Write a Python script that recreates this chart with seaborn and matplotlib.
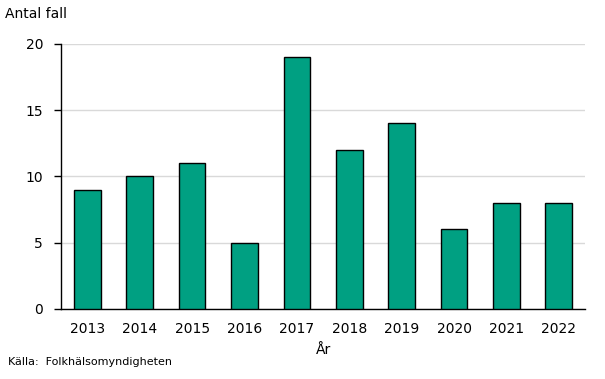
import matplotlib
matplotlib.use("Agg")
import matplotlib.pyplot as plt
import pandas as pd
import seaborn as sns

years = ["2013", "2014", "2015", "2016", "2017", "2018", "2019", "2020", "2021", "2022"]
cases = [9, 10, 11, 5, 19, 12, 14, 6, 8, 8]
yticks = [0, 5, 10, 15, 20]

sns.set_style("white")
plt.rcParams['font.family'] = ['DejaVu Sans']
plt.rcParams['text.color'] = 'black'
plt.rcParams['xtick.color'] = 'black'
plt.rcParams['ytick.color'] = 'black'
plt.rcParams['axes.labelcolor'] = 'black'

df = pd.DataFrame({"year": years, "cases": cases})

fig = plt.figure(figsize=(6.05, 3.79), dpi=100)
ax = fig.add_axes([0.101, 0.185, 0.866, 0.699])

sns.barplot(data=df, x="year", y="cases", color="#00a082", saturation=1,
            edgecolor="black", linewidth=1, width=0.51, ax=ax, zorder=3)

ax.set_ylim(0, 20)
ax.set_xlim(-0.5, 9.5)
ax.set_yticks(yticks)
ax.yaxis.grid(True, color="#d9d9d9", linewidth=1, zorder=0)
ax.set_axisbelow(True)

for s in ["top", "right"]:
    ax.spines[s].set_visible(False)
for s in ["left", "bottom"]:
    ax.spines[s].set_color("black")
    ax.spines[s].set_linewidth(1)

ax.tick_params(axis="y", which="both", left=True, length=5, width=1, color="black",
               labelsize=10, pad=8)
ax.tick_params(axis="x", bottom=False, labelsize=10, pad=6)

ax.set_xlabel("År", fontsize=10, labelpad=5)
ax.set_ylabel("")

fig.text(0.008, 0.963, "Antal fall", fontsize=10, va="center", ha="left")
fig.text(0.013, 0.045, "Källa:  Folkhälsomyndigheten", fontsize=8, va="center", ha="left")

fig.savefig("out.png", dpi=100)
